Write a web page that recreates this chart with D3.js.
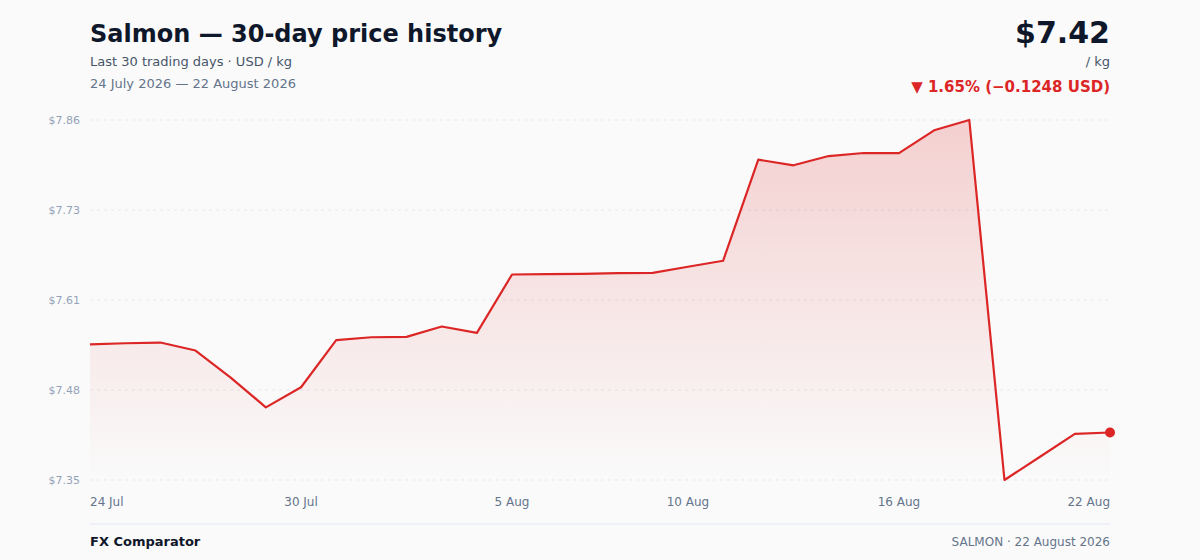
<!DOCTYPE html>
<html>
<head>
<meta charset="utf-8">
<script src="https://cdn.jsdelivr.net/npm/d3@7"></script>
<style>
  html, body { margin: 0; padding: 0; background: #fafafa; }
  svg { display: block; font-family: "DejaVu Sans", sans-serif; }
</style>
</head>
<body>
<svg id="chart" width="1200" height="560"></svg>
<script>
// 30 calendar days, 24 Jul .. 22 Aug 2026
var startDate = new Date(2026, 6, 24);
var prices = [7.5448, 7.5463, 7.5473, 7.5360, 7.4977, 7.4556, 7.4840, 7.5506, 7.5548, 7.5554,
              7.5700, 7.5610, 7.6436, 7.6441, 7.6446, 7.6455, 7.6460, 7.6545, 7.6630, 7.8061,
              7.7981, 7.8112, 7.8155, 7.8153, 7.8476, 7.8622, 7.3528, 7.3854, 7.4180, 7.4200];
var tickIdx = [0, 6, 12, 17, 23, 29];
var title = "Salmon — 30-day price history";
var subtitle = "Last 30 trading days · USD / kg";
var rangeText = "24 July 2026 — 22 August 2026";
var unitText = "/ kg";
var footLeft = "FX Comparator";
var footRight = "SALMON · 22 August 2026";

var months = ["Jan","Feb","Mar","Apr","May","Jun","Jul","Aug","Sep","Oct","Nov","Dec"];
var data = prices.map(function(v, i) {
    var d = new Date(startDate);
    d.setDate(d.getDate() + i);
    return { date: d, value: v };
});

var svg = d3.select("#chart");
var plotL = 90, plotR = 1110, plotT = 120, plotB = 480;
var red = "#dc2626";

var x = d3.scaleTime()
    .domain(d3.extent(data, function(d) { return d.date; }))
    .range([plotL, plotR]);
var y = d3.scaleLinear()
    .domain(d3.extent(prices))
    .range([plotB, plotT]);

// gradient for the area
var grad = svg.append("defs").append("linearGradient")
    .attr("id", "fillGrad").attr("x1", 0).attr("y1", 0).attr("x2", 0).attr("y2", 1);
grad.append("stop").attr("offset", "0%").attr("stop-color", red).attr("stop-opacity", 0.2);
grad.append("stop").attr("offset", "100%").attr("stop-color", red).attr("stop-opacity", 0.0);

// header
svg.append("text").attr("x", plotL).attr("y", 42)
    .attr("font-size", 24).attr("font-weight", "bold").attr("fill", "#0f172a")
    .text(title);
svg.append("text").attr("x", plotL).attr("y", 66)
    .attr("font-size", 13).attr("fill", "#475569").text(subtitle);
svg.append("text").attr("x", plotL).attr("y", 88)
    .attr("font-size", 13).attr("fill", "#64748b").text(rangeText);

var last = prices[prices.length - 1];
var diff = last - prices[0];
var pct = Math.abs(diff / prices[0] * 100);

svg.append("text").attr("x", plotR).attr("y", 43).attr("text-anchor", "end")
    .attr("font-size", 30).attr("font-weight", "bold").attr("fill", "#0f172a")
    .text("$" + last.toFixed(2));
svg.append("text").attr("x", plotR).attr("y", 66).attr("text-anchor", "end")
    .attr("font-size", 13).attr("fill", "#475569").text(unitText);
svg.append("text").attr("x", plotR).attr("y", 92).attr("text-anchor", "end")
    .attr("font-size", 15).attr("font-weight", "bold").attr("fill", red)
    .text((diff < 0 ? "▼ " : "▲ ") + pct.toFixed(2) + "% (" + (diff < 0 ? "−" : "+") + Math.abs(diff).toFixed(4) + " USD)");

// y grid + labels
var yd = y.domain();
var yTicks = d3.range(5).map(function(i) { return yd[0] + (yd[1] - yd[0]) * i / 4; });
var grid = svg.append("g");
yTicks.forEach(function(t) {
    grid.append("line")
        .attr("x1", plotL).attr("x2", plotR)
        .attr("y1", y(t)).attr("y2", y(t))
        .attr("stroke", "#e2e8f0").attr("stroke-width", 1)
        .attr("stroke-dasharray", "3,4");
    grid.append("text")
        .attr("x", plotL - 10).attr("y", y(t) + 4)
        .attr("text-anchor", "end").attr("font-size", 11).attr("fill", "#94a3b8")
        .text("$" + t.toFixed(2));
});

// area + line
var area = d3.area()
    .x(function(d) { return x(d.date); })
    .y0(plotB)
    .y1(function(d) { return y(d.value); });
var line = d3.line()
    .x(function(d) { return x(d.date); })
    .y(function(d) { return y(d.value); });

svg.append("path").datum(data).attr("d", area).attr("fill", "url(#fillGrad)");
svg.append("path").datum(data).attr("d", line)
    .attr("fill", "none").attr("stroke", red).attr("stroke-width", 2.2)
    .attr("stroke-linejoin", "round");

svg.append("circle")
    .attr("cx", x(data[data.length - 1].date)).attr("cy", y(last))
    .attr("r", 5).attr("fill", red);

// x labels
tickIdx.forEach(function(i, k) {
    var d = data[i].date;
    svg.append("text")
        .attr("x", x(d)).attr("y", 506)
        .attr("text-anchor", k === 0 ? "start" : (k === tickIdx.length - 1 ? "end" : "middle"))
        .attr("font-size", 12).attr("fill", "#64748b")
        .text(d.getDate() + " " + months[d.getMonth()]);
});

// footer
svg.append("line").attr("x1", plotL).attr("x2", plotR).attr("y1", 524).attr("y2", 524)
    .attr("stroke", "#e2e8f0").attr("stroke-width", 1);
svg.append("text").attr("x", plotL).attr("y", 546)
    .attr("font-size", 13).attr("font-weight", "bold").attr("fill", "#0f172a").text(footLeft);
svg.append("text").attr("x", plotR).attr("y", 546).attr("text-anchor", "end")
    .attr("font-size", 12).attr("fill", "#64748b").text(footRight);
</script>
</body>
</html>
